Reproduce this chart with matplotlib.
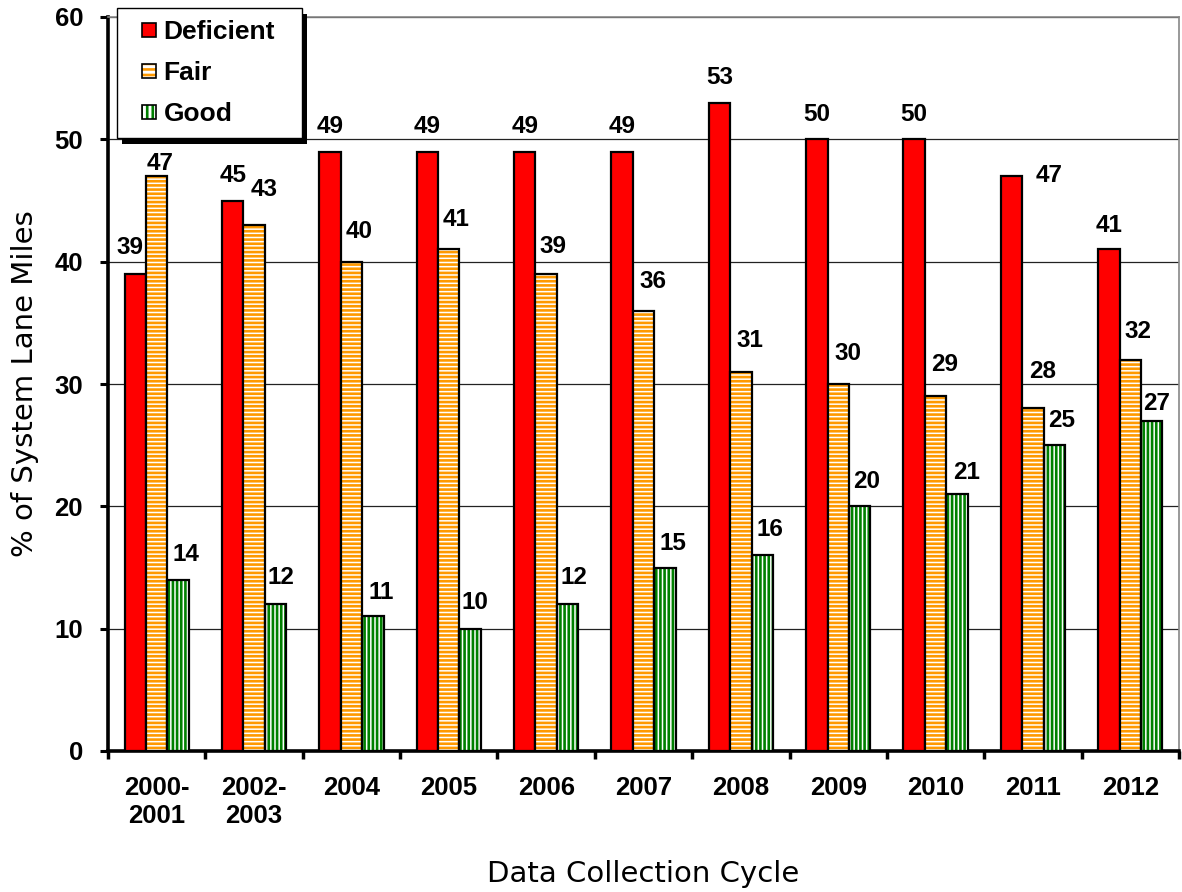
import numpy as np
import matplotlib
matplotlib.use("Agg")
import matplotlib.pyplot as plt
from matplotlib.patches import Rectangle
from matplotlib.legend_handler import HandlerPatch, HandlerTuple

# data
cycles = ["2000-\n2001", "2002-\n2003", "2004", "2005", "2006", "2007",
          "2008", "2009", "2010", "2011", "2012"]
deficient = [39, 45, 49, 49, 49, 49, 53, 50, 50, 47, 41]
fair = [47, 43, 40, 41, 39, 36, 31, 30, 29, 28, 32]
good = [14, 12, 11, 10, 12, 15, 16, 20, 21, 25, 27]
yticks = [0, 10, 20, 30, 40, 50, 60]

# label nudges (pixels, from top of bar), hand-placed in the original
def_off = [(-5, 26), (0, 25), (0, 25), (0, 25), (0, 25), (0, 25),
           (0, 25), (0, 25), (0, 25), (38, 1), (0, 24)]
fair_off = [(3, 13), (10, 35), (8, 30), (7, 30), (7, 27), (9, 29),
            (9, 31), (10, 30), (9, 32), (10, 37), (8, 28)]
good_off = [(8, 25), (5, 27), (8, 24), (5, 26), (6, 27), (8, 24),
            (8, 26), (7, 25), (10, 22), (7, 25), (5, 17)]

RED = "#ff0000"
ORANGE = "#ff9900"
GREEN = "#008000"

plt.rcParams["font.family"] = ["Liberation Sans", "DejaVu Sans"]
plt.rcParams["hatch.linewidth"] = 1.9

W, H = 1182, 892
fig = plt.figure(figsize=(W / 100, H / 100), dpi=100)
ax = fig.add_axes([108 / W, 1 - 751 / H, (1179 - 108) / W, (751 - 17) / H])

x = np.arange(len(cycles))
w = 0.22

ax.bar(x - w, deficient, w, color=RED, edgecolor="black", linewidth=1.6, zorder=3)
ax.bar(x, fair, w, facecolor="white", edgecolor=ORANGE, hatch="----", linewidth=0, zorder=3)
ax.bar(x, fair, w, fill=False, edgecolor="black", linewidth=1.6, zorder=4)
ax.bar(x + w, good, w, facecolor="white", edgecolor=GREEN, hatch="||||", linewidth=0, zorder=3)
ax.bar(x + w, good, w, fill=False, edgecolor="black", linewidth=1.6, zorder=4)

for vals, offs, shift in ((deficient, def_off, -w), (fair, fair_off, 0), (good, good_off, w)):
    for xi, v, (dx, dy) in zip(x, vals, offs):
        ax.annotate(str(v), (xi + shift, v), xytext=(dx, dy), textcoords="offset pixels",
                    ha="center", va="center", fontsize=17.5, fontweight="bold", zorder=6)

ax.set_xlim(-0.5, len(cycles) - 0.5)
ax.set_ylim(0, 60)
ax.set_yticks(yticks)
ax.set_xticks(x)
ax.set_xticklabels(cycles)
ax.set_xticks(np.arange(-0.5, len(cycles), 1), minor=True)
ax.tick_params(axis="x", which="major", length=0, pad=18, labelsize=18.5)
ax.tick_params(axis="x", which="minor", length=6, width=2.5, direction="out")
ax.tick_params(axis="y", length=6, width=2.2, pad=12, labelsize=18.5)
for lab in ax.get_xticklabels() + ax.get_yticklabels():
    lab.set_fontweight("bold")

ax.yaxis.grid(True, color="#222222", linewidth=0.9)
ax.set_axisbelow(True)
for s in ("left", "bottom"):
    ax.spines[s].set_linewidth(2.6)
    ax.spines[s].set_color("black")
for s in ("top", "right"):
    ax.spines[s].set_linewidth(1.2)
    ax.spines[s].set_color("#888888")

ax.set_xlabel("Data Collection Cycle", fontsize=21, family="DejaVu Sans", va="center")
ax.xaxis.set_label_coords(0.5, (751 - 874) / (751 - 17))
ax.set_ylabel("% of System Lane Miles", fontsize=21, family="DejaVu Sans", va="center")
ax.yaxis.set_label_coords(-83 / (1179 - 108), 0.5)


# legend: small squares sitting at the right of each handle box
def square(legend, orig_handle, xdescent, ydescent, width, height, fontsize):
    s = 10
    return Rectangle((width - xdescent - s, -ydescent + (height - s) / 2), s, s)


h_def = Rectangle((0, 0), 1, 1, facecolor=RED, edgecolor="black", linewidth=1.2)
h_fair = (Rectangle((0, 0), 1, 1, facecolor="white", edgecolor=ORANGE, hatch="---", linewidth=0),
          Rectangle((0, 0), 1, 1, fill=False, edgecolor="black", linewidth=1.2))
h_good = (Rectangle((0, 0), 1, 1, facecolor="white", edgecolor=GREEN, hatch="|||", linewidth=0),
          Rectangle((0, 0), 1, 1, fill=False, edgecolor="black", linewidth=1.2))

leg = fig.legend([h_def, h_fair, h_good], ["Deficient", "Fair", "Good"],
                 handler_map={tuple: HandlerTuple(ndivide=1, pad=0),
                              Rectangle: HandlerPatch(patch_func=square)},
                 loc="upper left", bbox_to_anchor=(117 / W, 1 - 8 / H, 185 / W, 0),
                 mode="expand", borderaxespad=0, borderpad=0.45, labelspacing=0.65,
                 handlelength=1.04, handleheight=0.7, handletextpad=0.27,
                 prop={"size": 19, "weight": "bold"}, fancybox=False,
                 framealpha=1, edgecolor="black")
leg.get_frame().set_linewidth(1.0)
leg.set_zorder(10)

fig.canvas.draw()
bb = leg.get_window_extent()
shadow = Rectangle(((bb.x0 + 5) / W, (bb.y0 - 6) / H), bb.width / W, bb.height / H,
                   transform=fig.transFigure, facecolor="black", edgecolor="none", zorder=9)
fig.add_artist(shadow)

fig.savefig("out.png", dpi=100, facecolor="white")
